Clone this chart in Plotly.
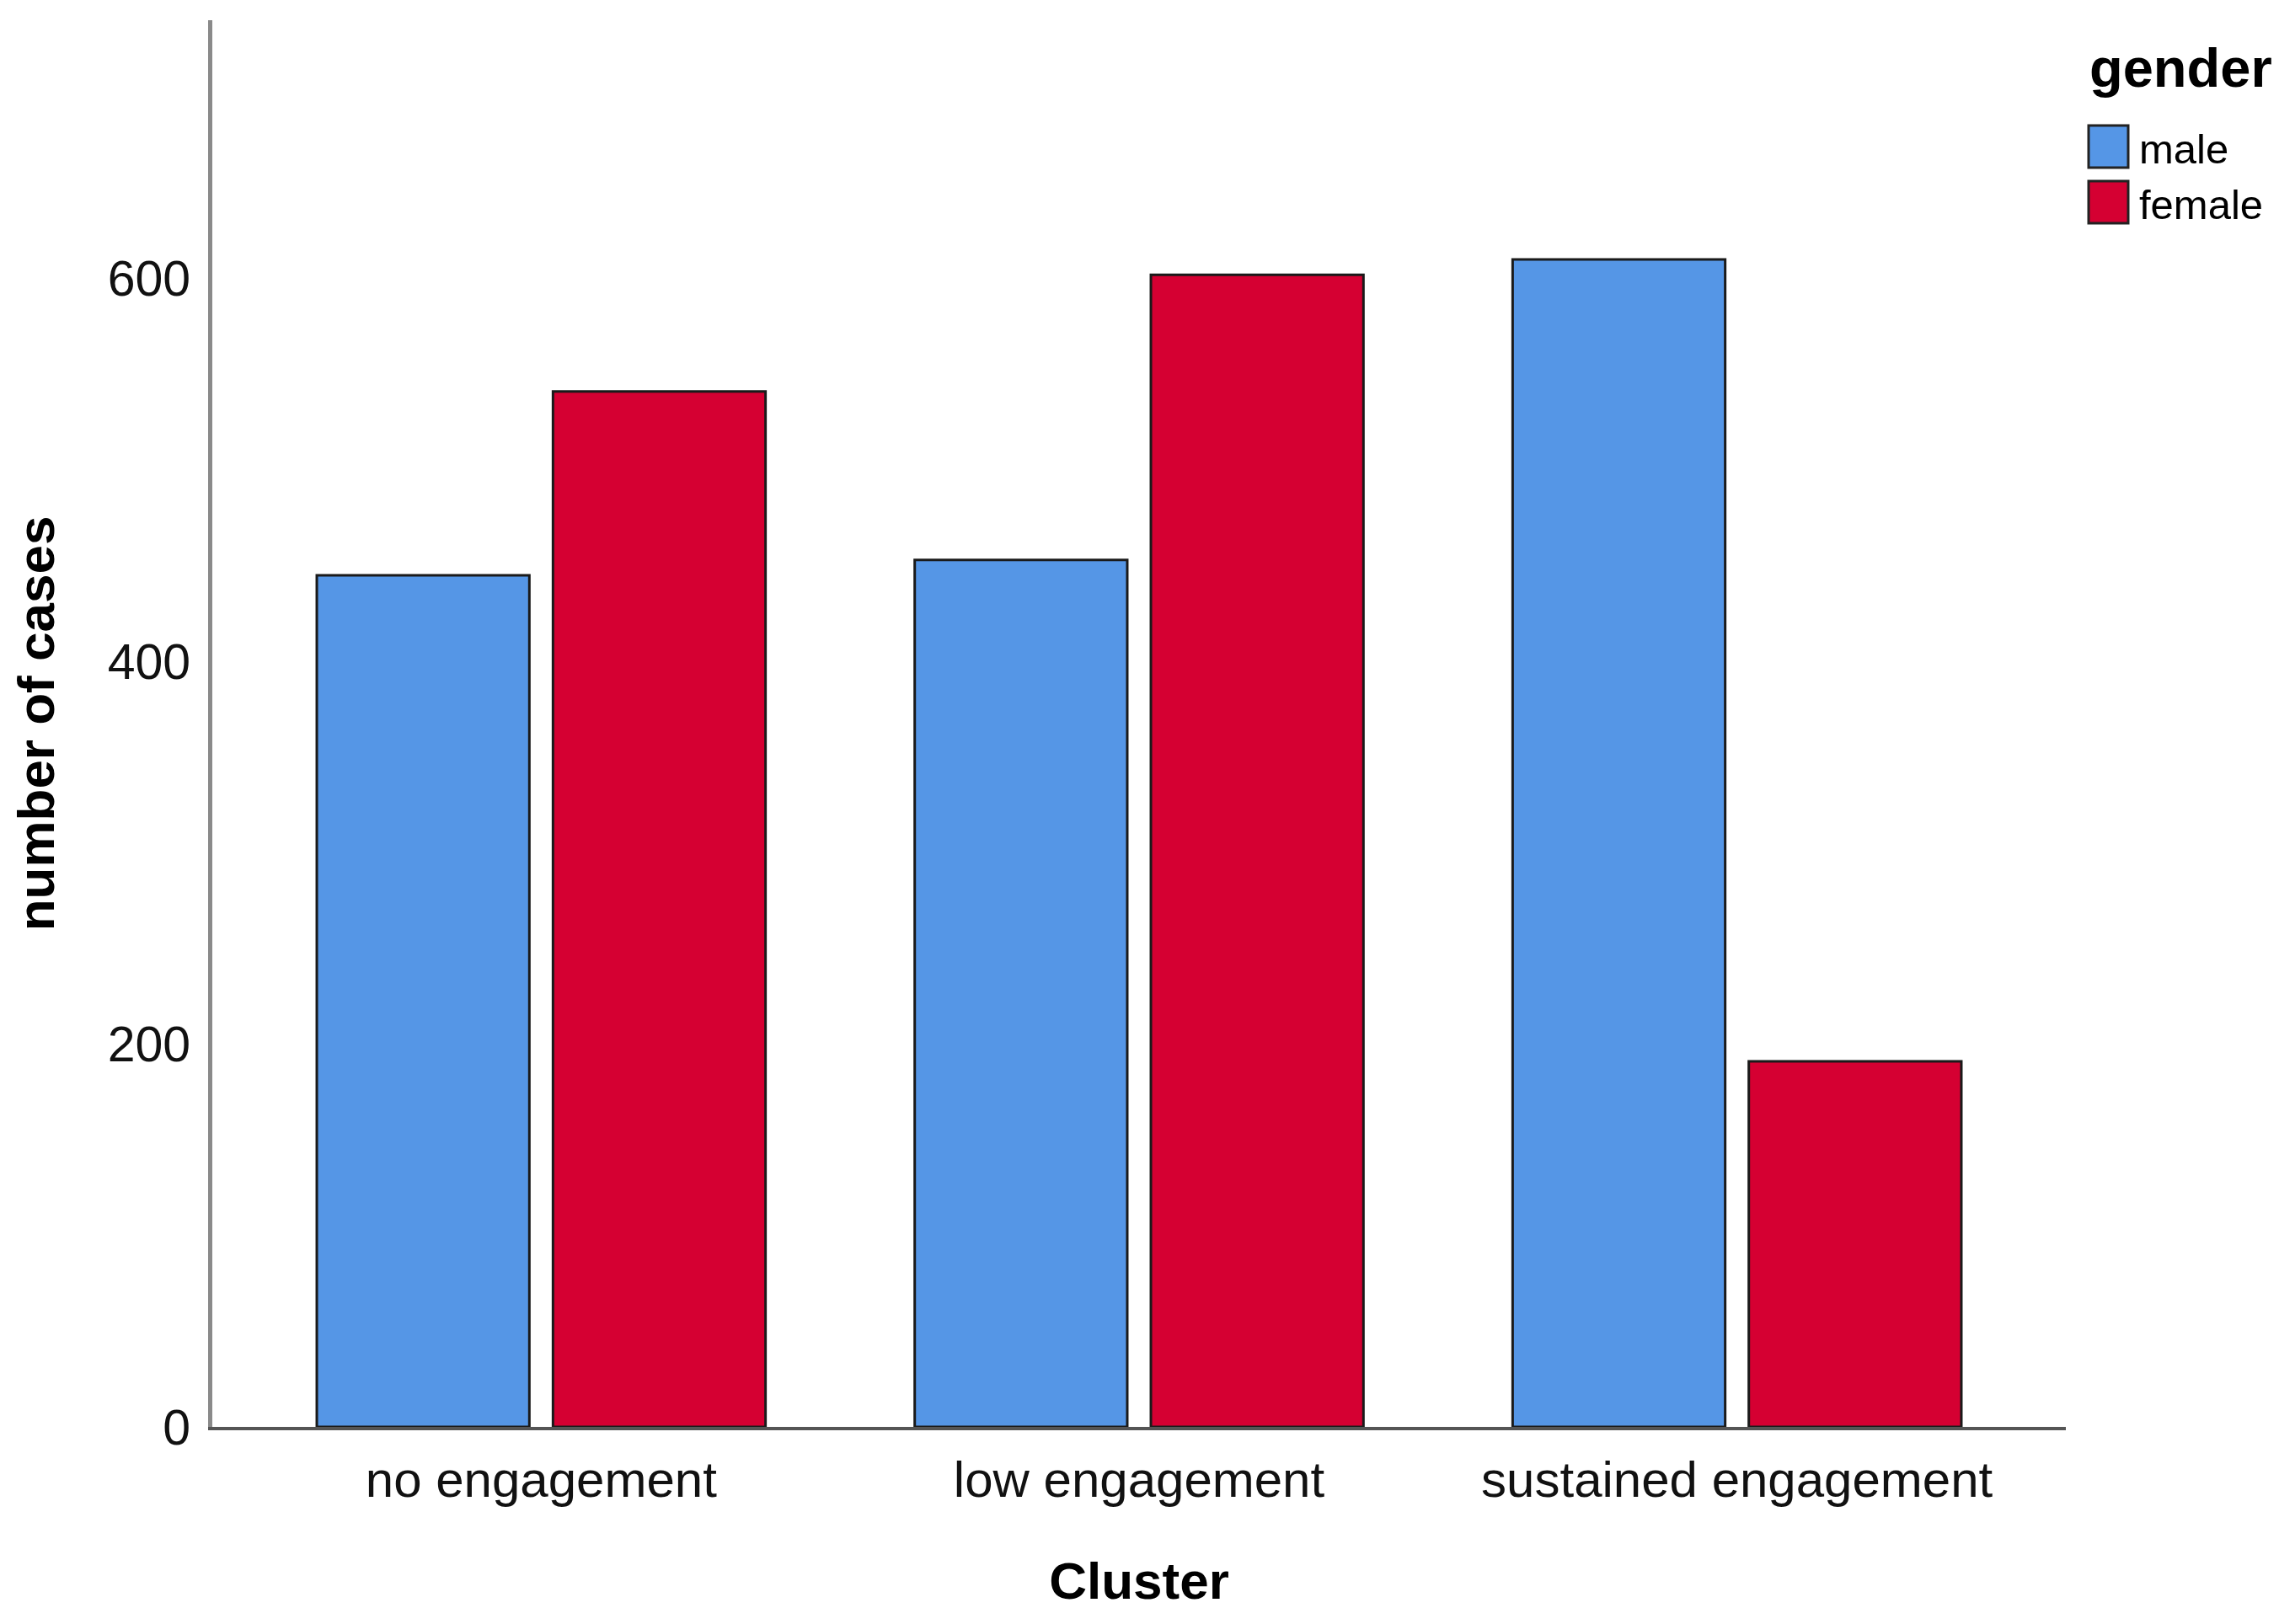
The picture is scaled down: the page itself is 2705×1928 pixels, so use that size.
import plotly.graph_objects as go

categories = ["no engagement", "low engagement", "sustained engagement"]
male = [445, 453, 610]
female = [541, 602, 191]
series_names = ["male", "female"]
series_colors = ["#5596E6", "#D50032"]
y_ticks = [0, 200, 400, 600]
legend_title = "gender"

W, H = 2705, 1928
L, R, T, B = 244, 261, 16, 242
pw, ph = W - L - R, H - T - B

def px_x(p):
    return (p - L) / pw

def px_y(p):
    return (H - B - p) / ph

FONT = "Liberation Sans, Arial, sans-serif"

fig = go.Figure()
for name, vals, col in zip(series_names, [male, female], series_colors):
    fig.add_trace(go.Bar(
        x=categories, y=vals, name=name,
        marker=dict(color=col, line=dict(color="#1a1a1a", width=3)),
        showlegend=False,
    ))

# manual legend (large swatches like the original)
shapes = []
annotations = [dict(
    text="<b>" + legend_title + "</b>", xref="paper", yref="paper",
    x=px_x(2470), y=px_y(72), xanchor="left", yanchor="middle",
    showarrow=False, font=dict(family=FONT, size=65, color="#000"),
)]
sw_top = [141, 207]
for i, (name, col) in enumerate(zip(series_names, series_colors)):
    t = sw_top[i]
    shapes.append(dict(
        type="rect", xref="paper", yref="paper",
        x0=px_x(2471), x1=px_x(2518), y0=px_y(t + 50), y1=px_y(t),
        fillcolor=col, line=dict(color="#222", width=3),
    ))
    annotations.append(dict(
        text=name, xref="paper", yref="paper",
        x=px_x(2529), y=px_y(t + 28), xanchor="left", yanchor="middle",
        showarrow=False, font=dict(family=FONT, size=49, color="#000"),
    ))

fig.update_layout(
    width=W, height=H,
    margin=dict(l=L, r=R, t=T, b=B, autoexpand=False),
    paper_bgcolor="white", plot_bgcolor="white",
    barmode="group", bargap=0.21, bargroupgap=0.1,
    font=dict(family=FONT, color="#000"),
    shapes=shapes, annotations=annotations,
    showlegend=False,
)
fig.update_xaxes(
    range=[-0.55, 2.55], showline=True, linecolor="#555", linewidth=4,
    showgrid=False, ticks="", tickfont=dict(family=FONT, size=60, color="#111"),
    ticklabelstandoff=7,
    title=dict(text="<b>Cluster</b>", font=dict(family=FONT, size=62, color="#000"), standoff=67),
    automargin=False,
)
fig.update_yaxes(
    range=[0, 735], tickvals=y_ticks, showline=True, linecolor="#8a8a8a", linewidth=5,
    showgrid=False, zeroline=False, ticks="",
    tickfont=dict(family=FONT, size=59, color="#111"),
    ticklabelstandoff=9,
    title=dict(text="<b>number of cases</b>", font=dict(family=FONT, size=62, color="#000"), standoff=45),
    automargin=False,
)
fig.write_html("out.html")
